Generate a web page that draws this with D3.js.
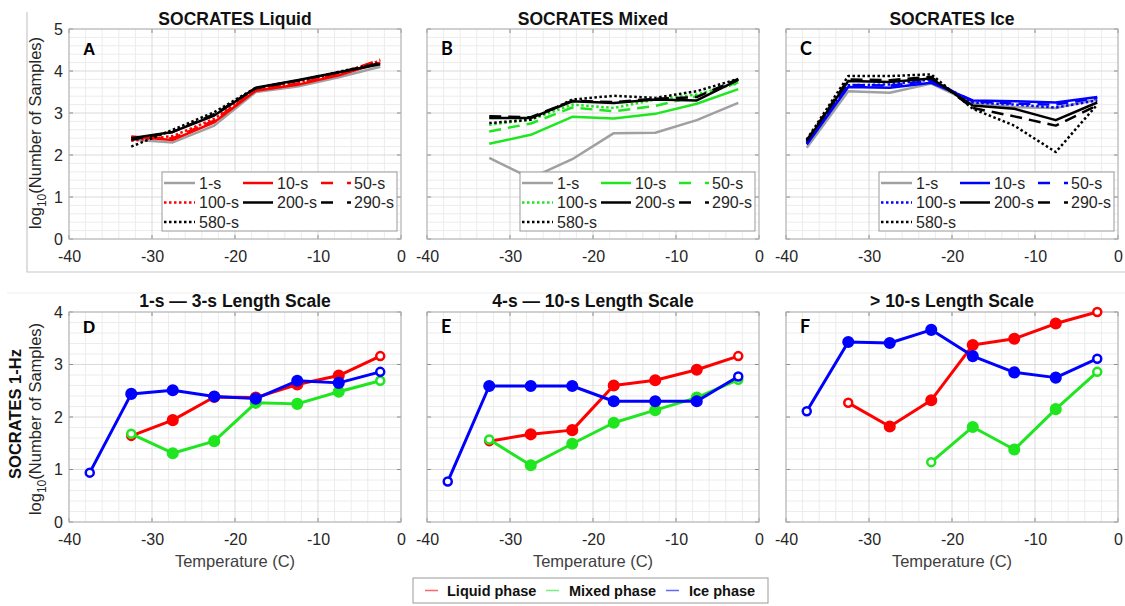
<!DOCTYPE html>
<html><head><meta charset="utf-8">
<script src="https://cdn.jsdelivr.net/npm/d3@7"></script>
<style>
body{margin:0;background:#fff;}
svg{display:block;font-family:"Liberation Sans",Arial,sans-serif;}
</style></head><body>
<svg id="fig" width="1125" height="606"></svg>
<script>
// Temperature bin centres (C)
const tempsWarm = [-32.5, -27.5, -22.5, -17.5, -12.5, -7.5, -2.5];
const tempsAll = [-37.5, -32.5, -27.5, -22.5, -17.5, -12.5, -7.5, -2.5];
const tempsMixedF = [-22.5, -17.5, -12.5, -7.5, -2.5];

// Averaging scales shown in the top-row legends
const scaleLabels = ["1-s", "10-s", "50-s", "100-s", "200-s", "290-s", "580-s"];

// log10(number of samples), liquid phase
const liq1 = [2.37, 2.30, 2.70, 3.50, 3.63, 3.85, 4.10];
const liq10 = [2.44, 2.36, 2.78, 3.53, 3.67, 3.90, 4.20];
const liq50 = [2.42, 2.40, 2.82, 3.56, 3.70, 3.93, 4.27];
const liq100 = [2.34, 2.45, 2.86, 3.57, 3.72, 3.95, 4.24];
const liq200 = [2.40, 2.55, 2.94, 3.60, 3.78, 3.97, 4.16];
const liq290 = [2.36, 2.55, 2.97, 3.59, 3.77, 3.97, 4.18];
const liq580 = [2.20, 2.60, 3.02, 3.60, 3.77, 3.98, 4.19];

// mixed phase
const mix1 = [1.93, 1.45, 1.90, 2.52, 2.53, 2.83, 3.24];
const mix10 = [2.27, 2.48, 2.91, 2.87, 2.98, 3.22, 3.57];
const mix50 = [2.56, 2.75, 3.13, 3.04, 3.17, 3.40, 3.73];
const mix100 = [2.72, 2.84, 3.20, 3.12, 3.32, 3.44, 3.71];
const mix200 = [2.88, 2.88, 3.28, 3.24, 3.32, 3.30, 3.79];
const mix290 = [2.92, 2.90, 3.29, 3.26, 3.34, 3.38, 3.81];
const mix580 = [2.76, 2.84, 3.32, 3.41, 3.36, 3.52, 3.81];

// ice phase
const ice1 = [2.17, 3.52, 3.48, 3.70, 3.24, 3.14, 3.12, 3.32];
const ice10 = [2.25, 3.62, 3.60, 3.72, 3.30, 3.28, 3.25, 3.38];
const ice50 = [2.28, 3.67, 3.65, 3.77, 3.28, 3.22, 3.20, 3.36];
const ice100 = [2.30, 3.66, 3.68, 3.80, 3.25, 3.20, 3.13, 3.30];
const ice200 = [2.33, 3.76, 3.74, 3.82, 3.18, 3.10, 2.83, 3.25];
const ice290 = [2.35, 3.80, 3.78, 3.86, 3.12, 2.92, 2.70, 3.18];
const ice580 = [2.37, 3.88, 3.88, 3.92, 3.10, 2.70, 2.07, 3.20];

// 1-Hz samples by length scale
const dLiq = [1.64, 1.94, 2.38, 2.37, 2.62, 2.79, 3.16];
const dMix = [1.68, 1.31, 1.54, 2.27, 2.25, 2.48, 2.69];
const dIce = [0.94, 2.44, 2.51, 2.39, 2.35, 2.69, 2.65, 2.86];
const eLiq = [1.54, 1.67, 1.75, 2.60, 2.70, 2.90, 3.16];
const eMix = [1.57, 1.08, 1.49, 1.89, 2.13, 2.37, 2.71];
const eIce = [0.77, 2.59, 2.59, 2.59, 2.30, 2.30, 2.30, 2.77];
const fLiq = [2.27, 1.82, 2.32, 3.37, 3.49, 3.78, 4.00];
const fMix = [1.14, 1.81, 1.38, 2.15, 2.86];
const fIce = [2.11, 3.43, 3.41, 3.66, 3.16, 2.85, 2.75, 3.11];

const topTitles = ["SOCRATES Liquid", "SOCRATES Mixed", "SOCRATES Ice"];
const bottomTitles = ["1-s \u2014 3-s Length Scale", "4-s \u2014 10-s Length Scale", "> 10-s Length Scale"];
const topLetters = ["A", "B", "C"];
const bottomLetters = ["D", "E", "F"];
const phaseNames = ["Liquid phase", "Mixed phase", "Ice phase"];

const RED = "#ff0000", GREEN = "#1fe61f", BLUE = "#0000ff", GRAY = "#a0a0a0", BLACK = "#000000";
const DASH = "12,7", DOT = "2.5,2.5";

const svg = d3.select("#fig");
const lefts = [69, 427, 786];
const W = 332;
// plain hyphen for negative tick values
const tickFmt = d => String(d);

// outer frame around the top row
svg.append("path").attr("d", "M27,12V272H1125").attr("fill", "none").attr("stroke", "#c8c8c8").attr("stroke-width", 1.2);
svg.append("line").attr("x1", 7).attr("x2", 1125).attr("y1", 293).attr("y2", 293).attr("stroke", "#eeeeee");

function axesFrame(left, top, bottom, yMax, showY) {
  const x = d3.scaleLinear().domain([-40, 0]).range([left, left + W]);
  const y = d3.scaleLinear().domain([0, yMax]).range([bottom, top]);
  const g = svg.append("g");
  g.append("rect").attr("x", left).attr("y", top).attr("width", W).attr("height", bottom - top).attr("fill", "#fff");
  // minor grid
  const xMinor = d3.range(-40, 0.01, 2).filter(v => v % 10 !== 0);
  const yMinor = d3.range(0, yMax + 0.001, 0.2).filter(v => Math.abs(v - Math.round(v)) > 0.01);
  g.selectAll(null).data(xMinor).join("line")
    .attr("x1", d => x(d)).attr("x2", d => x(d)).attr("y1", top).attr("y2", bottom)
    .attr("stroke", "#ececec").attr("stroke-width", 1);
  g.selectAll(null).data(yMinor).join("line")
    .attr("x1", left).attr("x2", left + W).attr("y1", d => y(d)).attr("y2", d => y(d))
    .attr("stroke", "#ececec").attr("stroke-width", 1);
  // major grid
  g.selectAll(null).data(x.ticks(4)).join("line")
    .attr("x1", d => x(d)).attr("x2", d => x(d)).attr("y1", top).attr("y2", bottom)
    .attr("stroke", "#dadada").attr("stroke-width", 1);
  g.selectAll(null).data(y.ticks(yMax)).join("line")
    .attr("x1", left).attr("x2", left + W).attr("y1", d => y(d)).attr("y2", d => y(d))
    .attr("stroke", "#dadada").attr("stroke-width", 1);
  // inward tick marks
  x.ticks(4).forEach(v => {
    g.append("line").attr("x1", x(v)).attr("x2", x(v)).attr("y1", bottom).attr("y2", bottom - 4).attr("stroke", "#8c8c8c");
    g.append("line").attr("x1", x(v)).attr("x2", x(v)).attr("y1", top).attr("y2", top + 4).attr("stroke", "#8c8c8c");
  });
  y.ticks(yMax).forEach(v => {
    g.append("line").attr("x1", left).attr("x2", left + 4).attr("y1", y(v)).attr("y2", y(v)).attr("stroke", "#8c8c8c");
    g.append("line").attr("x1", left + W).attr("x2", left + W - 4).attr("y1", y(v)).attr("y2", y(v)).attr("stroke", "#8c8c8c");
  });
  g.append("rect").attr("x", left).attr("y", top).attr("width", W).attr("height", bottom - top)
    .attr("fill", "none").attr("stroke", "#b4b4b4").attr("stroke-width", 1);
  // tick labels
  const xa = svg.append("g").attr("transform", `translate(0,${bottom})`)
    .call(d3.axisBottom(x).ticks(4).tickSize(0).tickPadding(12).tickFormat(tickFmt));
  xa.select(".domain").remove();
  xa.selectAll("text").attr("font-size", 16).attr("fill", "#262626").attr("font-family", "Liberation Sans, Arial, sans-serif");
  if (showY) {
    const ya = svg.append("g").attr("transform", `translate(${left},0)`)
      .call(d3.axisLeft(y).ticks(yMax).tickSize(0).tickPadding(6).tickFormat(tickFmt));
    ya.select(".domain").remove();
    ya.selectAll("text").attr("font-size", 16).attr("fill", "#262626").attr("font-family", "Liberation Sans, Arial, sans-serif");
  }
  return {x, y};
}

function drawSeries(sc, xs, ys, color, dash, width) {
  const line = d3.line().x((d, i) => sc.x(xs[i])).y(d => sc.y(d));
  svg.append("path").datum(ys).attr("d", line).attr("fill", "none")
    .attr("stroke", color).attr("stroke-width", width)
    .attr("stroke-dasharray", dash || null).attr("stroke-linejoin", "round");
}

function drawMarked(sc, xs, ys, color) {
  const line = d3.line().x((d, i) => sc.x(xs[i])).y(d => sc.y(d));
  svg.append("path").datum(ys).attr("d", line).attr("fill", "none")
    .attr("stroke", color).attr("stroke-width", 3).attr("stroke-linejoin", "round");
  svg.append("g").selectAll("circle").data(ys).join("circle")
    .attr("cx", (d, i) => sc.x(xs[i])).attr("cy", d => sc.y(d))
    .attr("r", (d, i) => (i === 0 || i === ys.length - 1) ? 4 : 4.8)
    .attr("fill", (d, i) => (i === 0 || i === ys.length - 1) ? "#fff" : color)
    .attr("stroke", color).attr("stroke-width", 2.5);
}

function topLegend(left, color) {
  const lx = left + 93, ly = 172, lw = 235, lh = 59;
  const g = svg.append("g");
  g.append("rect").attr("x", lx).attr("y", ly).attr("width", lw).attr("height", lh)
    .attr("fill", "#fff").attr("stroke", "#9a9a9a").attr("stroke-width", 1);
  const styles = [[GRAY, null], [color, null], [color, DASH], [color, DOT], [BLACK, null], [BLACK, DASH], [BLACK, DOT]];
  const cols = [[2, 33, 37], [81, 111, 115], [159, 189, 192]];
  scaleLabels.forEach((lab, i) => {
    const r = Math.floor(i / 3), c = i % 3;
    const cy = ly + 11 + r * 19.5;
    const [a, b, t] = cols[c];
    g.append("line").attr("x1", lx + a).attr("x2", lx + b).attr("y1", cy).attr("y2", cy)
      .attr("stroke", styles[i][0]).attr("stroke-width", 2.5)
      .attr("stroke-dasharray", styles[i][1] === DASH ? "12,14" : (styles[i][1] === DOT ? "2.5,2.5" : null));
    g.append("text").attr("x", lx + t).attr("y", cy).attr("dy", "0.36em")
      .attr("font-size", 16).attr("fill", "#262626").text(lab);
  });
}

// ---------- top row ----------
const topSets = [
  {color: RED, data: [liq1, liq10, liq50, liq100, liq200, liq290, liq580], xs: tempsWarm},
  {color: GREEN, data: [mix1, mix10, mix50, mix100, mix200, mix290, mix580], xs: tempsWarm},
  {color: BLUE, data: [ice1, ice10, ice50, ice100, ice200, ice290, ice580], xs: tempsAll}
];
topSets.forEach((set, p) => {
  const sc = axesFrame(lefts[p], 29, 239, 5, p === 0);
  const st = [[GRAY, null], [set.color, null], [set.color, DASH], [set.color, DOT], [BLACK, null], [BLACK, DASH], [BLACK, DOT]];
  set.data.forEach((ys, i) => drawSeries(sc, set.xs, ys, st[i][0], st[i][1], 2.5));
  topLegend(lefts[p], set.color);
  svg.append("text").attr("x", lefts[p] + W / 2).attr("y", 25).attr("text-anchor", "middle")
    .attr("font-size", 17.5).attr("font-weight", "bold").attr("fill", "#111").text(topTitles[p]);
  svg.append("text").attr("x", lefts[p] + 14).attr("y", 55)
    .attr("font-size", p === 0 ? 17 : 18).attr("font-weight", "bold")
    .attr("font-family", p === 0 ? "Liberation Sans, Arial, sans-serif" : "Lato, sans-serif")
    .attr("fill", "#000").text(topLetters[p]);
});

// ---------- bottom row ----------
const bottomSets = [
  [[tempsWarm, dLiq, RED], [tempsWarm, dMix, GREEN], [tempsAll, dIce, BLUE]],
  [[tempsWarm, eLiq, RED], [tempsWarm, eMix, GREEN], [tempsAll, eIce, BLUE]],
  [[tempsWarm, fLiq, RED], [tempsMixedF, fMix, GREEN], [tempsAll, fIce, BLUE]]
];
bottomSets.forEach((set, p) => {
  const sc = axesFrame(lefts[p], 312, 522, 4, p === 0);
  set.forEach(([xs, ys, c]) => drawMarked(sc, xs, ys, c));
  svg.append("text").attr("x", lefts[p] + W / 2).attr("y", 307).attr("text-anchor", "middle")
    .attr("font-size", 17.5).attr("font-weight", "bold").attr("fill", "#111").text(bottomTitles[p]);
  svg.append("text").attr("x", lefts[p] + 14).attr("y", 333)
    .attr("font-size", p === 0 ? 17 : 18).attr("font-weight", "bold")
    .attr("font-family", p === 0 ? "Liberation Sans, Arial, sans-serif" : "Lato, sans-serif")
    .attr("fill", "#000").text(bottomLetters[p]);
  svg.append("text").attr("x", lefts[p] + W / 2).attr("y", 567).attr("text-anchor", "middle")
    .attr("font-size", 16.5).attr("fill", "#404040").text("Temperature (C)");
});

// y-axis labels
function yLabel(cx, cy) {
  const t = svg.append("text").attr("transform", `translate(${cx},${cy}) rotate(-90)`)
    .attr("text-anchor", "middle").attr("dy", "0.35em").attr("font-size", 16.5).attr("fill", "#262626");
  t.append("tspan").text("log");
  t.append("tspan").attr("font-size", 12).attr("dy", 5).text("10");
  t.append("tspan").attr("dy", -5).text("(Number of Samples)");
}
yLabel(35, 133);
yLabel(35, 419);
svg.append("text").attr("transform", "translate(15,414) rotate(-90)")
  .attr("text-anchor", "middle").attr("dy", "0.35em").attr("font-size", 16.5)
  .attr("font-weight", "bold").attr("fill", "#111").text("SOCRATES 1-Hz");

// phase legend
const lg = svg.append("g");
lg.append("rect").attr("x", 413).attr("y", 578).attr("width", 355).attr("height", 25)
  .attr("fill", "#fff").attr("stroke", "#9a9a9a");
const phaseColors = [RED, GREEN, BLUE];
const phaseLineX = [425, 546, 666];
const phaseTextX = [447, 569, 689];
phaseNames.forEach((n, i) => {
  lg.append("line").attr("x1", phaseLineX[i]).attr("x2", phaseLineX[i] + 13).attr("y1", 590.5).attr("y2", 590.5)
    .attr("stroke", phaseColors[i]).attr("stroke-opacity", 0.6).attr("stroke-width", 1.5);
  lg.append("text").attr("x", phaseTextX[i]).attr("y", 590.5).attr("dy", "0.36em")
    .attr("font-size", 14.5).attr("font-weight", "bold").attr("fill", "#111").text(n);
});
</script></body></html>
